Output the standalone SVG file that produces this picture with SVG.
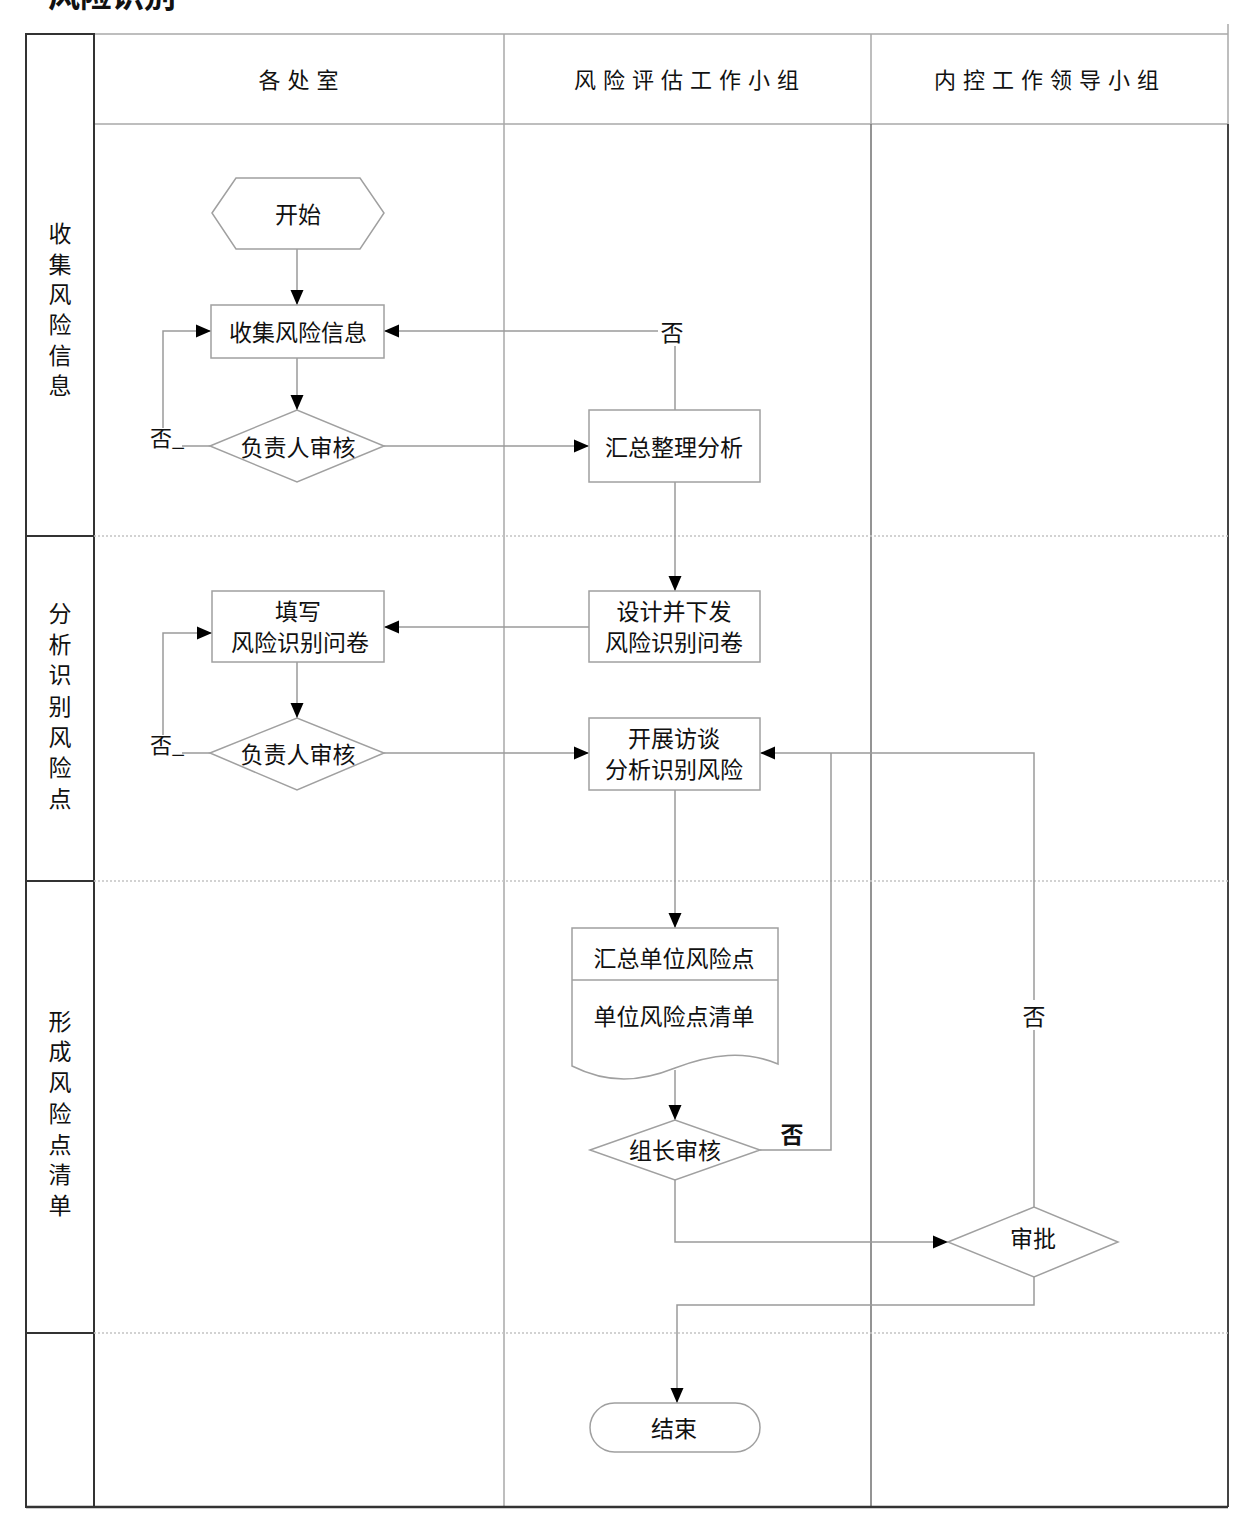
<svg xmlns="http://www.w3.org/2000/svg" width="1245" height="1530" viewBox="0 0 1245 1530">
<style>
text{font-family:"Noto Sans CJK SC","Liberation Sans",sans-serif;fill:#111;}
.t{font-size:23px;text-anchor:middle;dominant-baseline:central;}
.h{font-size:22px;letter-spacing:7px;text-anchor:middle;dominant-baseline:central;}
.lane{font-size:23px;text-anchor:middle;dominant-baseline:central;}
.shape{fill:#fff;stroke:#a0a0a0;stroke-width:1.5;}
.conn{fill:none;stroke:#9a9a9a;stroke-width:1.5;}
.frame{fill:none;stroke:#333;stroke-width:2;}
.grid{stroke:#a8a8a8;stroke-width:1.5;}
.dot{stroke:#c4c4c4;stroke-width:1.5;stroke-dasharray:2 2;}
.lbl{font-size:23px;text-anchor:middle;dominant-baseline:central;}
</style>
<defs>
<marker id="ah" markerUnits="userSpaceOnUse" markerWidth="16" markerHeight="16" refX="15" refY="8" orient="auto">
<path d="M0,1.5 L15,8 L0,14.5 z" fill="#000"/>
</marker>
</defs>
<rect width="1245" height="1530" fill="#fff"/>
<text x="48" y="7" style="font-size:32px;font-weight:bold;">风险识别</text>

<g id="frame">
<line class="grid" x1="94" y1="34" x2="1228" y2="34"/>
<line class="grid" x1="94" y1="124" x2="1228" y2="124"/>
<line class="grid" x1="504" y1="34" x2="504" y2="1507"/>
<line class="grid" x1="871" y1="34" x2="871" y2="124"/>
<line x1="871" y1="124" x2="871" y2="1507" stroke="#707070" stroke-width="1.5"/>
<line class="grid" x1="1228" y1="24" x2="1228" y2="124"/>
<line x1="1228" y1="124" x2="1228" y2="1507" stroke="#444" stroke-width="2"/>
<line x1="26" y1="1507" x2="1228" y2="1507" stroke="#333" stroke-width="2.5"/>
<rect class="frame" x="26" y="34" width="68" height="1473"/>
<line class="frame" x1="26" y1="536" x2="94" y2="536"/>
<line class="frame" x1="26" y1="881" x2="94" y2="881"/>
<line class="frame" x1="26" y1="1333" x2="94" y2="1333"/>
<line class="dot" x1="94" y1="536" x2="1228" y2="536"/>
<line class="dot" x1="94" y1="881" x2="1228" y2="881"/>
<line class="dot" x1="94" y1="1333" x2="1228" y2="1333"/>
<text class="h" x="302" y="78">各处室</text>
<text class="h" x="690" y="78">风险评估工作小组</text>
<text class="h" x="1050" y="78">内控工作领导小组</text>
<text class="lane"><tspan x="60" y="232">收</tspan><tspan x="60" y="263">集</tspan><tspan x="60" y="293">风</tspan><tspan x="60" y="323">险</tspan><tspan x="60" y="354">信</tspan><tspan x="60" y="384">息</tspan></text>
<text class="lane"><tspan x="60" y="612">分</tspan><tspan x="60" y="643">析</tspan><tspan x="60" y="673">识</tspan><tspan x="60" y="705">别</tspan><tspan x="60" y="736">风</tspan><tspan x="60" y="766">险</tspan><tspan x="60" y="797">点</tspan></text>
<text class="lane"><tspan x="60" y="1020">形</tspan><tspan x="60" y="1050">成</tspan><tspan x="60" y="1081">风</tspan><tspan x="60" y="1112">险</tspan><tspan x="60" y="1143">点</tspan><tspan x="60" y="1173">清</tspan><tspan x="60" y="1204">单</tspan></text>
</g>

<g id="connectors">
<path class="conn" d="M297,249 V305" marker-end="url(#ah)"/>
<path class="conn" d="M297,358 V410" marker-end="url(#ah)"/>
<path class="conn" d="M210,446 H163 V331 H211" marker-end="url(#ah)"/>
<path class="conn" d="M384,446 H589" marker-end="url(#ah)"/>
<path class="conn" d="M675,410 V331 H384" marker-end="url(#ah)"/>
<path class="conn" d="M675,482 V591" marker-end="url(#ah)"/>
<path class="conn" d="M589,627 H384" marker-end="url(#ah)"/>
<path class="conn" d="M297,662 V718" marker-end="url(#ah)"/>
<path class="conn" d="M210,753 H163 V633 H212" marker-end="url(#ah)"/>
<path class="conn" d="M384,753 H589" marker-end="url(#ah)"/>
<path class="conn" d="M675,790 V928" marker-end="url(#ah)"/>
<path class="conn" d="M675,1070 V1120" marker-end="url(#ah)"/>
<path class="conn" d="M760,1150 H831 V753"/>
<path class="conn" d="M1034,1207 V753 H760" marker-end="url(#ah)"/>
<path class="conn" d="M675,1180 V1242 H948" marker-end="url(#ah)"/>
<path class="conn" d="M1034,1277 V1305 H677 V1403" marker-end="url(#ah)"/>
<rect x="658" y="316" width="28" height="30" fill="#fff"/>
<text class="lbl" x="672" y="331">否</text>
<rect x="148" y="428" width="34" height="22" fill="#fff"/>
<text x="150" y="446" style="font-size:22px;">否_</text>
<rect x="148" y="735" width="34" height="22" fill="#fff"/>
<text x="150" y="753" style="font-size:22px;">否_</text>
<text class="lbl" x="792" y="1133" style="font-weight:bold;">否</text>
<rect x="1020" y="1000" width="28" height="30" fill="#fff"/>
<text class="lbl" x="1034" y="1015">否</text>
</g>

<g id="start">
<polygon class="shape" points="212,213 236,178 360,178 384,213 360,249 236,249"/>
<text class="t" x="298" y="213">开始</text>
</g>
<g id="collect">
<rect class="shape" x="211" y="305" width="173" height="53"/>
<text class="t" x="298" y="331">收集风险信息</text>
</g>
<g id="review1">
<polygon class="shape" points="210,446 297,410 384,446 297,482"/>
<text class="t" x="298" y="446">负责人审核</text>
</g>
<g id="summarize">
<rect class="shape" x="589" y="410" width="171" height="72"/>
<text class="t" x="674" y="446">汇总整理分析</text>
</g>
<g id="design">
<rect class="shape" x="589" y="591" width="171" height="71"/>
<text class="t" x="674" y="610">设计并下发</text>
<text class="t" x="674" y="641">风险识别问卷</text>
</g>
<g id="fill">
<rect class="shape" x="212" y="591" width="172" height="71"/>
<text class="t" x="298" y="610">填写</text>
<text class="t" x="300" y="641">风险识别问卷</text>
</g>
<g id="review2">
<polygon class="shape" points="210,753 297,718 384,753 297,790"/>
<text class="t" x="298" y="753">负责人审核</text>
</g>
<g id="interview">
<rect class="shape" x="589" y="718" width="171" height="72"/>
<text class="t" x="674" y="737">开展访谈</text>
<text class="t" x="674" y="768">分析识别风险</text>
</g>
<g id="document">
<path class="shape" d="M572,928 H778 V1064 C745,1050 712,1054 675,1068 C640,1082 608,1084 572,1066 Z"/>
<line x1="572" y1="980" x2="778" y2="980" stroke="#a0a0a0" stroke-width="1.5"/>
<text class="t" x="674" y="957">汇总单位风险点</text>
<text class="t" x="674" y="1015">单位风险点清单</text>
</g>
<g id="leader-review">
<polygon class="shape" points="590,1150 675,1120 760,1150 675,1180"/>
<text class="t" x="675" y="1149">组长审核</text>
</g>
<g id="approve">
<polygon class="shape" points="948,1242 1034,1207 1118,1242 1034,1277"/>
<text class="t" x="1033" y="1237">审批</text>
</g>
<g id="end">
<rect class="shape" x="590" y="1403" width="170" height="49" rx="24.5"/>
<text class="t" x="674" y="1427">结束</text>
</g>
</svg>
